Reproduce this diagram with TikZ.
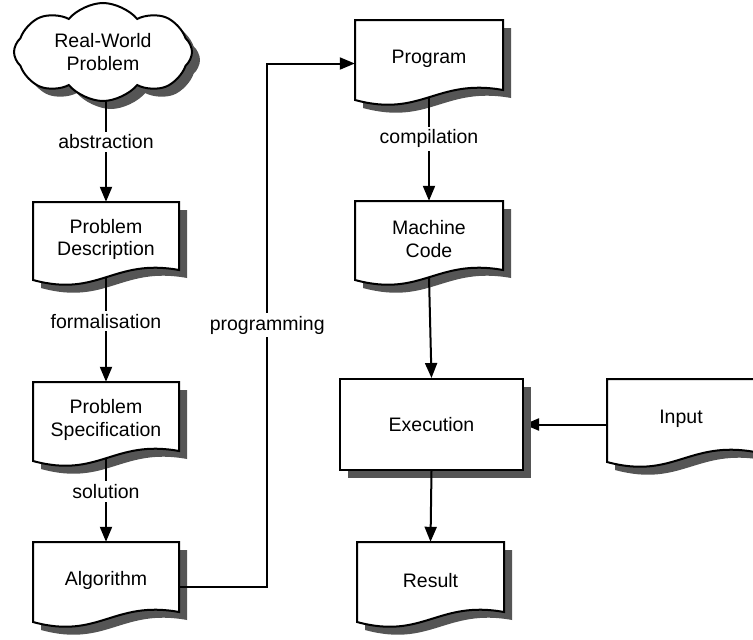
\documentclass[tikz,border=0pt]{standalone}
\usepackage{fontspec}
\setmainfont{Liberation Sans}
\usetikzlibrary{arrows.meta,shapes.symbols}
\pgfdeclarelayer{bg}
\pgfsetlayers{bg,main}

\definecolor{shadowgray}{RGB}{85,85,85}

\tikzset{
  boxline/.style={draw=black,line width=2pt,fill=white},
  txt/.style={font=\fontsize{19.5}{22.5}\selectfont,align=center,inner sep=0pt,
              rectangle},
  lbl/.style={font=\fontsize{19.5}{22.5}\selectfont,fill=white,inner sep=3pt},
  arr/.style={line width=2pt,-{Triangle[length=15pt,width=12pt]}},
  puffy/.style={cloud,cloud puffs=8,cloud puff arc=100,aspect=1.8,
                minimum width=178pt,minimum height=98pt,inner sep=0pt,align=center,
                font=\fontsize{19.5}{22.5}\selectfont},
}

% document shape: name, left, top, right, bottom (left corner), text
\newcommand\docbox[6]{%
  \fill[shadowgray] ({#2+8},{#3+8}) -- ({#4+8},{#3+8}) -- ({#4+8},{#5-10+8})
    .. controls ({#2+0.55*(#4-#2)+8},{#5-22+8}) and ({#2+0.45*(#4-#2)+8},{#5+18+8})
    .. ({#2+8},{#5+8}) -- cycle;
  \path[boxline] (#2,#3) -- (#4,#3) -- (#4,{#5-10})
    .. controls ({#2+0.55*(#4-#2)},{#5-22}) and ({#2+0.45*(#4-#2)},{#5+18})
    .. (#2,#5) -- cycle;
  \node[txt,minimum width={#4-#2},minimum height={#5-#3-3}] (#1)
    at ({(#2+#4)/2},{(#3+#5-3)/2}) {#6};
}

\begin{document}
\begin{tikzpicture}[x=1pt,y=-1pt]
\useasboundingbox (0,0) rectangle (753,640);
\clip (0,0) rectangle (753,640);

% cloud with its shadow
\node[puffy,fill=shadowgray] at (111,60) {\phantom{Real-World}\\\phantom{Problem}};
\node[puffy,draw=black,line width=2pt,fill=white] (rw) at (103,52) {Real-World\\Problem};

% left column
\docbox{pd}{33}{202}{179}{280}{Problem\\Description}
\docbox{ps}{33}{382}{179}{461}{Problem\\Specification}
\docbox{al}{33}{542}{179}{622}{Algorithm}

% right column
\docbox{pg}{355}{20}{503}{100}{Program}
\docbox{mc}{355}{201}{503}{280}{Machine\\Code}
\fill[shadowgray] (348,387) rectangle (531,478);
\node[boxline,txt,minimum width=183pt,minimum height=91pt] (ex) at (431.5,424.5) {Execution};
\docbox{rs}{357}{542}{504}{622}{Result}
\docbox{in}{607}{379}{755}{462}{Input}

% connectors
\draw[arr] (pd.north |- rw.south) -- node[lbl,pos=.4]{abstraction} (pd.north);
\draw[arr] (pd.south) -- node[lbl,pos=.42]{formalisation} (ps.north);
\draw[arr] (ps.south) -- node[lbl,pos=.4]{solution} (al.north);
\draw[arr] ([yshift=-6pt]al.east) -- ++(88,0)
  |- node[lbl,pos=.25]{programming} ([yshift=-5pt]pg.west);
\draw[arr] (pg.south) -- node[lbl,pos=.4]{compilation} (mc.north);
\draw[arr] (mc.south) -- (ex.north);
\draw[arr] (ex.south) -- (rs.north);
\begin{pgfonlayer}{bg}
\draw[arr] (in.west |- ex.east) -- (ex.east);
\end{pgfonlayer}
\end{tikzpicture}
\end{document}
